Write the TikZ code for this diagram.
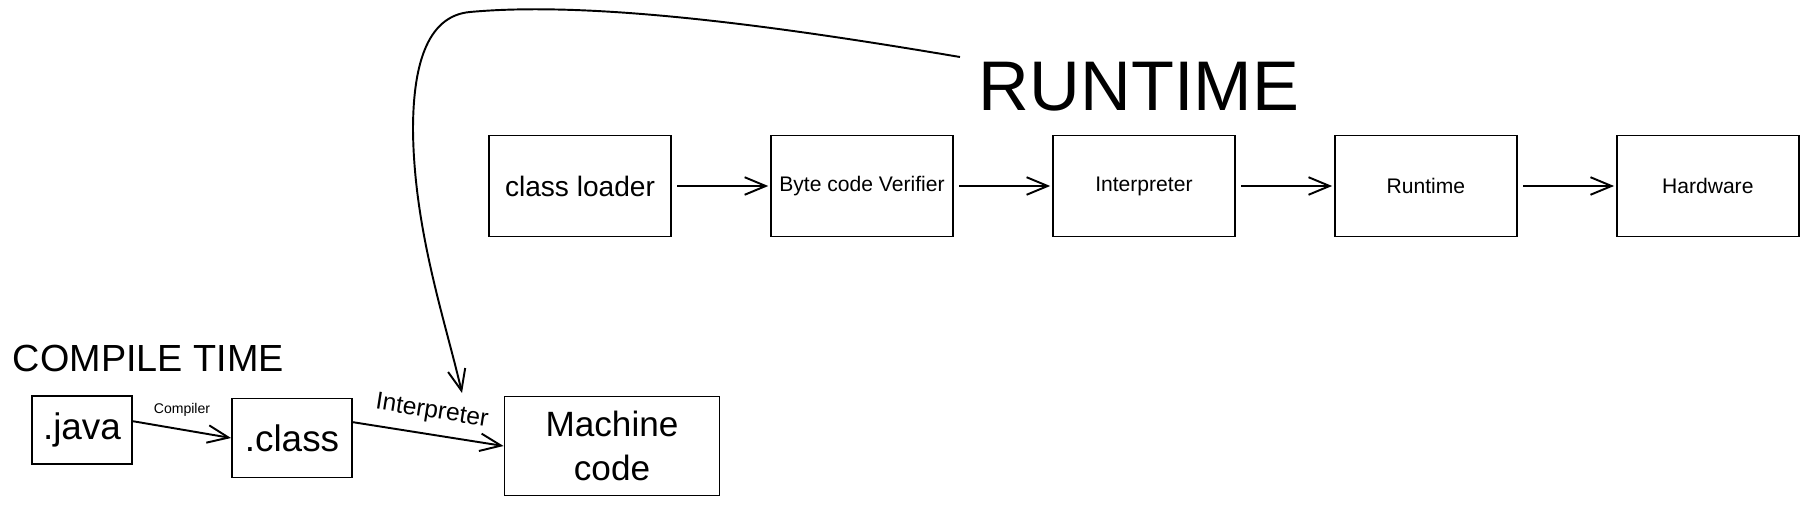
\documentclass[tikz,border=0pt]{standalone}
\usepackage{fontspec}
\setmainfont{Liberation Sans}
\usetikzlibrary{arrows.meta}

\def\stagesep{5.64cm}

\begin{document}
\begin{tikzpicture}[x=0.02cm, y=-0.02cm, line width=1.1pt, node distance=\stagesep,
    >={Straight Barb[length=12pt, width=10pt]}]
    \tikzstyle{stage}=[draw, minimum width=3.64cm, minimum height=2.02cm, inner sep=0pt, font=\fontsize{12}{14}\selectfont]
    \tikzstyle{block}=[draw, inner sep=0pt, font=\fontsize{21}{25}\selectfont]
    \tikzstyle{heading}=[anchor=base west, inner sep=0pt]
    \tikzstyle{flow}=[->, shorten <=3pt, shorten >=1pt]
    \tikzstyle{tag}=[inner sep=0pt]

    \useasboundingbox (0,0) rectangle (1809,507);

    % runtime chain
    \node[stage, font=\fontsize{16}{19}\selectfont] (S-1) at (580,186) {class loader};
    \foreach \name/\prev/\txt in {2/1/Byte code Verifier, 3/2/Interpreter, 4/3/Runtime, 5/4/Hardware}
        \node[stage, right of=S-\prev] (S-\name) {\txt};

    \foreach \source/\dest in {1/2, 2/3, 3/4, 4/5}
        \draw[flow] (S-\source) -- (S-\dest);

    \node[heading, font=\fontsize{40}{48}\selectfont] (runtime) at (978,110) {RUNTIME};
    \node[heading, font=\fontsize{21.5}{26}\selectfont] (compile) at (12,371) {COMPILE TIME};

    % compile chain
    \node[block, minimum width=2cm, minimum height=1.36cm] (java) at (82,430) {.java};
    \node[block, minimum width=2.4cm, minimum height=1.58cm] (cls) at (292,438) {.class};
    \node[block, minimum width=4.3cm, minimum height=1.98cm, align=center, font=\fontsize{20}{25}\selectfont] (machine) at (612,446) {Machine\\code};

    \draw[->] ([yshift=5pt]java.east) -- node[tag, above=7pt, font=\fontsize{8}{10}\selectfont] (compiler) {Compiler} (cls.west);
    \draw[->] ([yshift=9pt]cls.east) -- node[tag, above=6pt, sloped, font=\fontsize{14}{17}\selectfont] (interp) {Interpreter} (machine.west);

    \coordinate (loop-start) at (960,57);
    \coordinate (loop-end) at (462,393);
    \draw[->] (loop-start) .. controls (800,30) and (600,0) .. (470,12)
        .. controls (425,16) and (413,70) .. (413,130)
        .. controls (414,230) and (445,320) .. (loop-end);
\end{tikzpicture}
\end{document}
